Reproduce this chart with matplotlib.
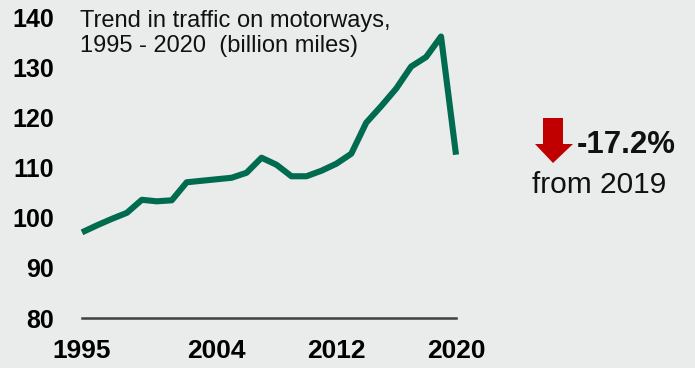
import matplotlib.pyplot as plt
from matplotlib.patches import Polygon

years = list(range(1995, 2021))
traffic = [97.1, 98.5, 99.8, 101.0, 103.6, 103.3, 103.5, 107.1, 107.4, 107.7,
           108.0, 109.0, 112.0, 110.6, 108.3, 108.3, 109.4, 110.8, 112.8, 119.0,
           122.3, 125.8, 130.2, 132.1, 136.2, 112.6]
x_ticks = [1995, 2004, 2012, 2020]
y_ticks = [80, 90, 100, 110, 120, 130, 140]

title = "Trend in traffic on motorways,\n1995 - 2020  (billion miles)"
change_label = "-17.2%"
change_note = "from 2019"

bg = "#e9ecea"
line_color = "#006b4f"

plt.rcParams["font.family"] = ["Liberation Sans", "DejaVu Sans"]

W, H = 695, 368
fig = plt.figure(figsize=(W / 100, H / 100), dpi=100, facecolor=bg)
ax = fig.add_axes([82 / W, 1 - 318 / H, (456 - 82) / W, (318 - 17.5) / H])
ax.set_facecolor(bg)

ax.plot(years, traffic, color=line_color, linewidth=4.4, solid_capstyle="butt",
        solid_joinstyle="round", clip_on=False)

ax.set_xlim(1995, 2020)
ax.set_ylim(80, 140)
ax.set_xticks(x_ticks)
ax.set_yticks(y_ticks)
ax.tick_params(axis="x", length=0, pad=15, labelsize=19)
ax.tick_params(axis="y", length=0, pad=20, labelsize=18)
for lbl in ax.get_xticklabels() + ax.get_yticklabels():
    lbl.set_fontweight("bold")

for side in ["top", "right", "left"]:
    ax.spines[side].set_visible(False)
ax.spines["bottom"].set_color("#404040")
ax.spines["bottom"].set_linewidth(1.8)

fig.text(80 / W, 1 - 10 / H, title, fontsize=17, va="top", ha="left",
         linespacing=1.2, color="#111111")

# red down arrow
arrow = [(543, 118), (563, 118), (563, 144), (573, 144), (553, 163),
         (535, 144), (543, 144)]
fig.patches.append(Polygon([(px / W, 1 - py / H) for px, py in arrow],
                           closed=True, transform=fig.transFigure,
                           facecolor="#c00000", edgecolor="none"))

fig.text(577 / W, 1 - 153 / H, change_label, fontsize=22.5, fontweight="bold",
         va="baseline", ha="left", color="#111111")
fig.text(532 / W, 1 - 193 / H, change_note, fontsize=21.5,
         va="baseline", ha="left", color="#111111")

fig.savefig("out.png", dpi=100, facecolor=bg)
